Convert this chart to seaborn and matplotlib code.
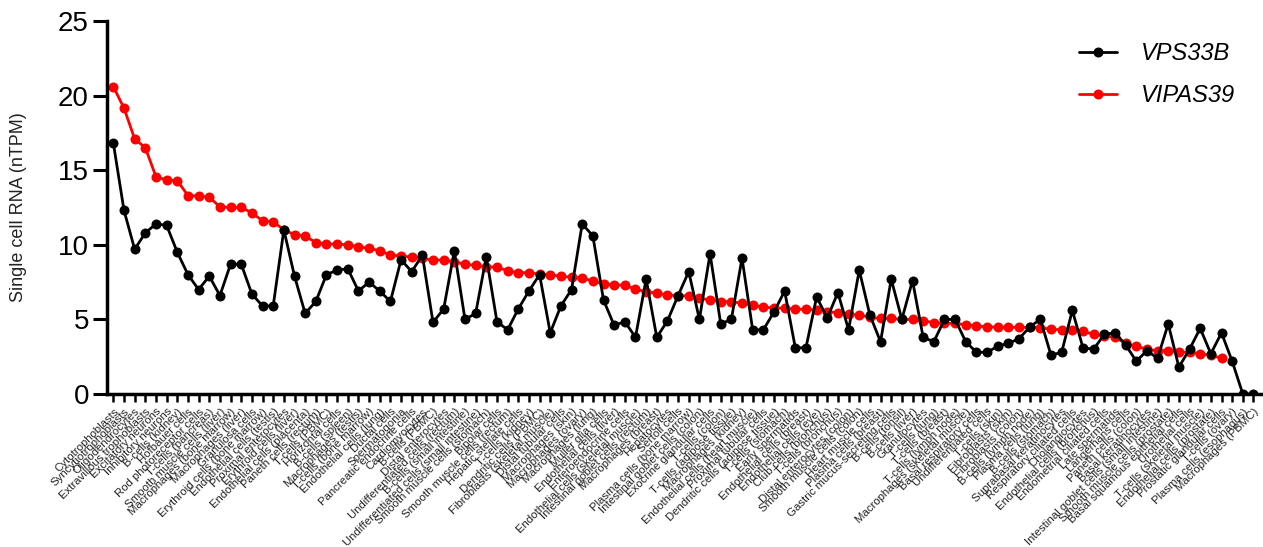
import numpy as np
import pandas as pd
import matplotlib
matplotlib.use("Agg")
import matplotlib.pyplot as plt
from matplotlib.lines import Line2D
import seaborn as sns

cell_types = [
    "Cytotrophoblasts", "Syncytiotrophoblasts", "Oligodendrocytes", "Extravillous trophoblasts",
    "Excitatory neurons", "Inhibitory neurons", "B-cells (kidney)", "Hofbauer cells",
    "Rod photoreceptor cells", "T-cells (pancreas)",
    "Smooth muscle cells (liver)", "Macrophages (bone marrow)", "Macrophages (liver)", "Granulosa cells",
    "Erythroid cells (bone marrow)", "Endothelial cells (testis)", "Proximal enterocytes",
    "Erythroid cells (liver)", "Endothelial cells (placenta)", "Paneth cells (rectum)",
    "T-cells (PBMC)", "Horizontal cells", "B-cells (spleen)", "Macrophages (testis)",
    "T-cells (bone marrow)", "Endothelial cells (lung)", "Ductal cells", "Spermatogonia",
    "Pancreatic endocrine cells", "Cardiomyocytes",
    "B-cells (PBMC)", "Distal enterocytes", "Undifferentiated cells (rectum)", "B-cells (small intestine)",
    "Undifferentiated cells (small intestine)", "Smooth muscle cells (stomach)", "Bipolar cells",
    "Smooth muscle cells (rectum)", "Hepatic stellate cells", "T-cells (kidney)",
    "Dendritic cells (PBMC)", "Fibroblasts (skeletal muscle)", "Distal tubular cells", "Macrophages (skin)",
    "Macrophages (ovary)", "Macrophages (lung)", "Muller glia cells", "Endothelial cells (liver)",
    "Enteroendocrine cells", "Endothelial cells (skeletal muscle)",
    "Intestinal goblet cells (rectum)", "Macrophages (breast)", "Hepatocytes", "Sertoli cells",
    "Plasma cells (bone marrow)", "Intestinal goblet cells (colon)", "Exocrine glandular cells",
    "T-cells (colon)", "T-cells (adipose tissue)", "Macrophages (kidney)",
    "Endothelial cells (heart muscle)", "Proximal tubular cells", "Dendritic cells (adipose tissue)",
    "T-cells (stomach)", "Early spermatids", "Endothelial cells (breast)", "Endothelial cells (eye)",
    "Club cells (bronchus)", "T-cells (bronchus)", "Distal enterocytes (colon)",
    "Smooth muscle cells (colon)", "Heart muscle cells", "Plasma cells (breast)",
    "Gastric mucus-secreting cells", "B-cells (tonsil)", "B-cells (liver)", "Granulocytes",
    "T-cells (lung)", "T-cells (breast)", "T-cells (lymph node)",
    "Macrophages (skeletal muscle)", "Basal respiratory cells", "Undifferentiated cells", "T-cells (skin)",
    "Fibroblasts (skin)", "Fibroblasts (colon)", "B-cells (lymph node)", "Plasma cells (lung)",
    "B-cells (stomach)", "Suprabasal keratinocytes",
    "Respiratory ciliated cells", "Cholangiocytes", "Endothelial cells (bronchus)",
    "Endometrial ciliated cells", "Late spermatids", "Langerhans cells", "Paneth cells (colon)",
    "Basal keratinocytes", "Intestinal goblet cells (small intestine)", "Smooth muscle cells (prostate)",
    "Basal squamous epithelial cells", "Urothelial cells", "T-cells (skeletal muscle)",
    "Endothelial cells (prostate)", "Prostatic glandular cells", "T-cells (ovary)",
    "Plasma cells (esophagus)", "Macrophages (PBMC)",
]

vps33b = [
    16.8, 12.3, 9.7, 10.8, 11.4, 11.3, 9.5, 8.0, 7.0, 7.9,
    6.6, 8.7, 8.7, 6.7, 5.9, 5.9, 11.0, 7.9, 5.4, 6.2,
    8.0, 8.3, 8.4, 6.9, 7.5, 6.9, 6.2, 9.0, 8.2, 9.3,
    4.8, 5.7, 9.6, 5.0, 5.4, 9.2, 4.85, 4.3, 5.7, 6.9,
    8.0, 4.1, 5.9, 7.0, 11.4, 10.6, 6.3, 4.6, 4.85, 3.8,
    7.7, 3.8, 4.9, 6.6, 8.2, 5.0, 9.4, 4.7, 5.0, 9.1,
    4.3, 4.3, 5.5, 6.9, 3.1, 3.1, 6.5, 5.1, 6.8, 4.3,
    8.3, 5.3, 3.5, 7.7, 5.0, 7.6, 3.8, 3.5, 5.0, 5.0,
    3.5, 2.8, 2.8, 3.2, 3.4, 3.7, 4.5, 5.0, 2.6, 2.8,
    5.6, 3.1, 3.0, 4.0, 4.1, 3.3, 2.2, 2.9, 2.4, 4.7,
    1.8, 3.0, 4.4, 2.7, 4.1, 2.2, 0.0, 0.0,
]

vipas39 = [
    20.6, 19.15, 17.1, 16.5, 14.56, 14.34, 14.3, 13.3, 13.27, 13.18,
    12.55, 12.5, 12.5, 12.15, 11.6, 11.55, 11.0, 10.68, 10.6, 10.14,
    10.05, 10.05, 9.99, 9.87, 9.76, 9.6, 9.32, 9.25, 9.16, 9.09,
    8.98, 8.98, 8.87, 8.69, 8.62, 8.53, 8.49, 8.27, 8.13, 8.13,
    8.04, 7.98, 7.9, 7.82, 7.75, 7.59, 7.37, 7.3, 7.3, 7.02,
    6.86, 6.75, 6.64, 6.6, 6.57, 6.41, 6.3, 6.19, 6.19, 6.08,
    5.97, 5.81, 5.78, 5.74, 5.68, 5.68, 5.63, 5.52, 5.45, 5.36,
    5.3, 5.14, 5.07, 5.07, 5.0, 5.0, 4.91, 4.78, 4.74, 4.74,
    4.62, 4.56, 4.5, 4.48, 4.47, 4.47, 4.46, 4.45, 4.34, 4.3,
    4.3, 4.2, 4.0, 3.9, 3.8, 3.4, 3.2, 3.0, 2.9, 2.9,
    2.8, 2.8, 2.7, 2.6, 2.4, np.nan, np.nan, np.nan,
]

df = pd.DataFrame({
    "pos": np.arange(len(cell_types)),
    "cell": cell_types,
    "VPS33B": vps33b,
    "VIPAS39": vipas39,
})

sns.set_theme(style="white")
plt.rcParams["font.family"] = ["Liberation Sans", "DejaVu Sans"]
plt.rcParams["text.color"] = "black"
plt.rcParams["axes.labelcolor"] = "#222222"

fig = plt.figure(figsize=(12.63, 5.47), dpi=100)
ax = fig.add_axes([0.0847, 0.2797, 0.9145, 0.682])

line_kw = dict(marker="o", markersize=7.2, linewidth=2.0, markeredgewidth=0)
sns.lineplot(data=df, x="pos", y="VIPAS39", color="#ff0000", ax=ax, **line_kw)
sns.lineplot(data=df, x="pos", y="VPS33B", color="#000000", ax=ax, **line_kw)

ax.set_xlim(-0.6, len(cell_types) - 0.2)
ax.set_ylim(0, 25)
ax.set_yticks([0, 5, 10, 15, 20, 25])
ax.set_xticks(df["pos"])
ax.set_xticklabels(cell_types, rotation=45, ha="right", rotation_mode="anchor",
                   fontsize=8.2, color="#222222")
ax.tick_params(axis="y", labelsize=20, length=10, width=2.2, direction="out",
               left=True, pad=3, colors="black")
ax.tick_params(axis="x", length=6, width=1.8, direction="out", bottom=True, pad=3,
               color="black")
ax.set_xlabel("")
ax.set_ylabel("Single cell RNA (nTPM)", fontsize=13, labelpad=22)

for s in ["top", "right"]:
    ax.spines[s].set_visible(False)
for s in ["left", "bottom"]:
    ax.spines[s].set_linewidth(2.5)
    ax.spines[s].set_color("black")

handles = [
    Line2D([], [], color="black", marker="o", markersize=7.2, linewidth=2.0, markeredgewidth=0),
    Line2D([], [], color="#ff0000", marker="o", markersize=7.2, linewidth=2.0, markeredgewidth=0),
]
leg = ax.legend(handles, ["VPS33B", "VIPAS39"], loc="upper right", frameon=False,
                bbox_to_anchor=(0.995, 1.0), handlelength=1.6, handletextpad=1.0,
                labelspacing=0.8, prop={"style": "italic", "size": 17})
for t in leg.get_texts():
    t.set_color("black")

fig.savefig("out.png", dpi=100)
